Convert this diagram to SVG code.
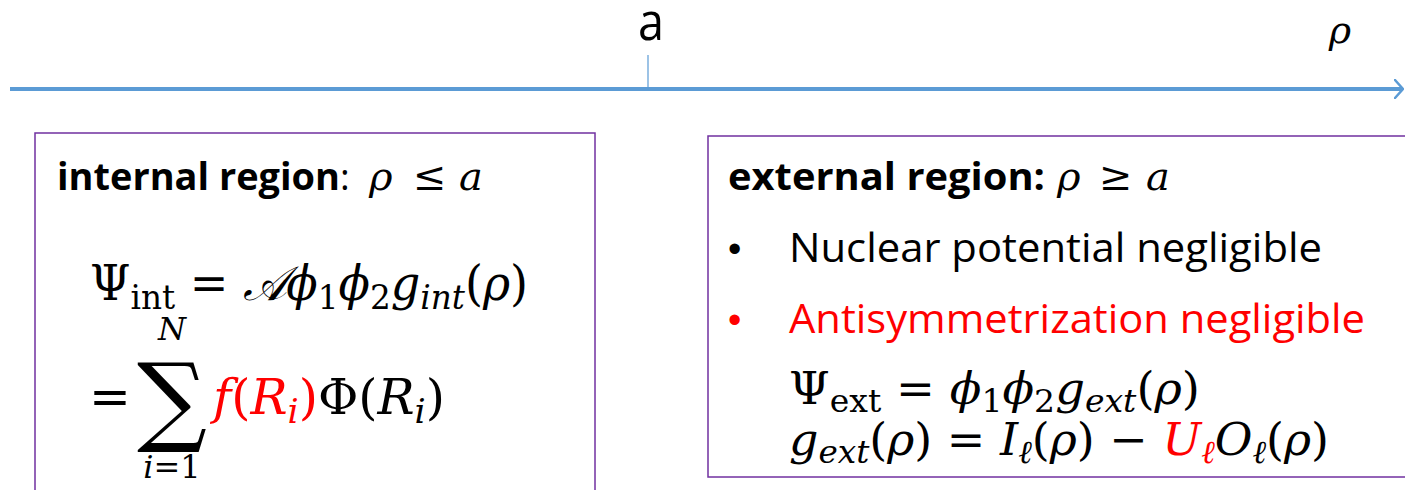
<svg xmlns="http://www.w3.org/2000/svg" width="1405" height="490" viewBox="0 0 1405 490">
<style>
.box{fill:none;stroke:#7030A0;stroke-width:1.5}
.sans{font-family:"Open Sans","Liberation Sans",sans-serif;fill:#000}
.bold{font-family:"Open Sans","Liberation Sans",sans-serif;font-weight:bold;fill:#000}
.math{font-family:"DejaVu Serif","Liberation Serif",serif;fill:#000}
.it{font-style:italic}
.red{fill:#FF0000}
.bul{font-family:"Liberation Sans",sans-serif}
</style>
<defs>
<marker id="chev" viewBox="0 0 10 20" refX="9" refY="10" markerWidth="10" markerHeight="20" markerUnits="userSpaceOnUse" orient="auto">
<path d="M1,1 L9,10 L1,19" fill="none" stroke="#5B9BD5" stroke-width="2.5" stroke-linecap="round"/>
</marker>
</defs>
<rect width="1405" height="490" fill="#fff"/>
<g id="connectors">
<line x1="10" y1="89" x2="1403" y2="89" stroke="#5B9BD5" stroke-width="4" marker-end="url(#chev)"/>
<line x1="648" y1="55" x2="648" y2="89" stroke="#5B9BD5" stroke-width="1.2"/>
</g>
<g id="axis-labels">
<text class="sans" x="651" y="40" font-size="52" text-anchor="middle" transform="translate(651 0) scale(0.9 1) translate(-651 0)">a</text>
<text class="math it" x="1340" y="43" font-size="38" text-anchor="middle">ρ</text>
</g>
<g id="internal">
<rect class="box" x="35" y="133" width="560" height="370"/>
<text x="57" y="190" font-size="37"><tspan class="bold" textLength="283" lengthAdjust="spacingAndGlyphs">internal region</tspan><tspan class="sans">:</tspan></text>
<text class="math" y="190" font-size="40"><tspan class="it" x="369">ρ</tspan><tspan x="413">≤</tspan><tspan class="it" x="459">a</tspan></text>
<text class="math" x="90" y="300" font-size="48" textLength="438" lengthAdjust="spacingAndGlyphs">Ψ<tspan font-size="34" dy="9">int</tspan><tspan dy="-9"> = </tspan><tspan font-family="Liberation Serif" class="it">𝒜</tspan><tspan class="it">ϕ</tspan><tspan font-size="34" dy="9">1</tspan><tspan class="it" dy="-9">ϕ</tspan><tspan font-size="34" dy="9">2</tspan><tspan class="it" dy="-9">g</tspan><tspan class="it" font-size="34" dy="9">int</tspan><tspan dy="-9">(</tspan><tspan class="it">ρ</tspan>)</text>
<text class="math it" x="172" y="340" font-size="32" text-anchor="middle">N</text>
<text class="math" x="89" y="414" font-size="50">=</text>
<text class="math" x="172" y="433" font-size="98" text-anchor="middle">∑</text>
<text class="math it" x="172" y="478" font-size="32" text-anchor="middle">i<tspan font-style="normal">=1</tspan></text>
<text class="math" x="213" y="414" font-size="48" textLength="232" lengthAdjust="spacingAndGlyphs"><tspan class="red it">f</tspan><tspan class="red">(</tspan><tspan class="red it">R</tspan><tspan class="red it" font-size="34" dy="9">i</tspan><tspan class="red" dy="-9">)</tspan>Φ(<tspan class="it">R</tspan><tspan class="it" font-size="34" dy="9">i</tspan><tspan dy="-9">)</tspan></text>
</g>
<g id="external">
<rect class="box" x="708" y="136" width="720" height="341"/>
<text x="728" y="190" font-size="37"><tspan class="bold" textLength="317" lengthAdjust="spacingAndGlyphs">external region:</tspan></text>
<text class="math" y="190" font-size="40"><tspan class="it" x="1057">ρ</tspan><tspan x="1099">≥</tspan><tspan class="it" x="1146">a</tspan></text>
<text class="bul" x="728" y="262" font-size="38">•</text>
<text class="sans" x="789" y="262" font-size="40" textLength="533" lengthAdjust="spacingAndGlyphs">Nuclear potential negligible</text>
<text class="bul red" x="728" y="333" font-size="38">•</text>
<text class="sans red" x="789" y="333" font-size="40" textLength="576" lengthAdjust="spacingAndGlyphs">Antisymmetrization negligible</text>
<text class="math" x="789" y="404" font-size="45" textLength="411" lengthAdjust="spacingAndGlyphs">Ψ<tspan font-size="32" dy="8">ext</tspan><tspan dy="-8"> = </tspan><tspan class="it">ϕ</tspan><tspan font-size="32" dy="8">1</tspan><tspan class="it" dy="-8">ϕ</tspan><tspan font-size="32" dy="8">2</tspan><tspan class="it" dy="-8">g</tspan><tspan class="it" font-size="32" dy="8">ext</tspan><tspan dy="-8">(</tspan><tspan class="it">ρ</tspan>)</text>
<text class="math" x="789" y="455" font-size="45" textLength="540" lengthAdjust="spacingAndGlyphs"><tspan class="it">g</tspan><tspan class="it" font-size="32" dy="8">ext</tspan><tspan dy="-8">(</tspan><tspan class="it">ρ</tspan>) = <tspan class="it">I</tspan><tspan class="it" font-size="32" dy="8">ℓ</tspan><tspan dy="-8">(</tspan><tspan class="it">ρ</tspan>) − <tspan class="it red">U</tspan><tspan class="it red" font-size="32" dy="8">ℓ</tspan><tspan class="it" dy="-8">O</tspan><tspan class="it" font-size="32" dy="8">ℓ</tspan><tspan dy="-8">(</tspan><tspan class="it">ρ</tspan>)</text>
</g>
</svg>
